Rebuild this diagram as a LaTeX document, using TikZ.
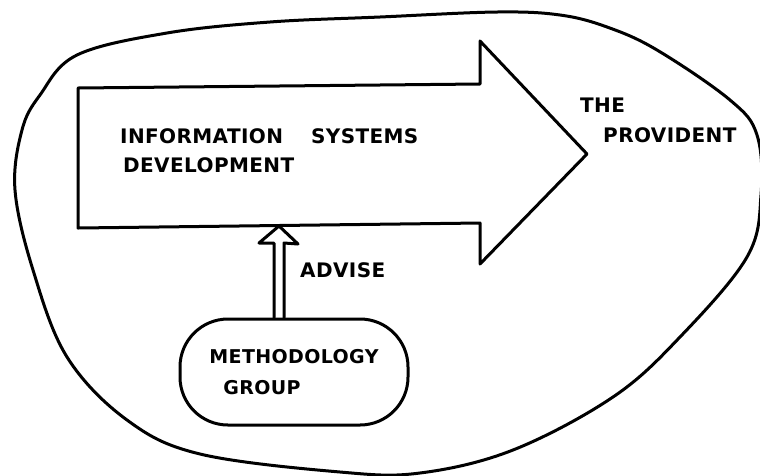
\documentclass[tikz,border=0pt]{standalone}
\usepackage{fontspec}
\newfontfamily\hand[LetterSpace=2]{DejaVu Sans Bold}
\usetikzlibrary{calc}
\begin{document}
\begin{tikzpicture}[x=1pt,y=-1pt,
  pen/.style={line width=3pt,line join=round,line cap=round},
  lbl/.style={font=\hand\fontsize{20}{29}\selectfont,inner sep=0pt,align=left,anchor=north west}]
\useasboundingbox (0,0) rectangle (760,475);
% outer boundary (the organisation)
\draw[pen] plot[smooth cycle, tension=0.6] coordinates {
  (380,17) (497,12) (560,15) (607,27) (657,50) (730,100) (757,135) (761,195)
  (747,257) (680,337) (613,397) (513,450) (420,473) (340,472) (200,454)
  (127,420) (67,357) (33,270) (15,190) (22,130) (40,95) (77,55) (167,33) (270,22)};
% big arrow
\coordinate (b1) at (78,88);
\coordinate (b2) at (480,84);
\coordinate (b3) at (480,41);
\coordinate (b4) at (587,154);
\coordinate (b5) at (480,264);
\coordinate (b6) at (480,223);
\coordinate (b7) at (78,228);
\draw[pen] (b1) -- (b2) -- (b3) -- (b4) -- (b5) -- (b6) -- (b7) -- cycle;
\node[lbl] (isd) at (120,128) {INFORMATION\hspace{28pt}SYSTEMS\\\hspace{3pt}DEVELOPMENT};
\node[lbl,font=\hand\fontsize{20}{30}\selectfont] (prov) at (580,98) {THE\\\hspace{23pt}PROVIDENT};
% methodology group
\node[pen,draw,rounded corners=48pt,minimum width=228pt,minimum height=106pt,
      font=\hand\fontsize{19}{31}\selectfont,align=left,inner sep=0pt] (mg) at (294,372)
      {METHODOLOGY\\\hspace{14pt}GROUP};
% advise arrow
\coordinate (tip) at (279,226);
\coordinate (sl) at (274,243);
\coordinate (sr) at (284,243);
\coordinate (hl) at (259,243);
\coordinate (hr) at (298,244);
\draw[pen] (sl |- mg.north) -- (sl) -- (hl) -- (tip) -- (hr) -- (sr) -- (sr |- mg.north);
\node[lbl] (adv) at (300,262) {ADVISE};
\end{tikzpicture}
\end{document}
